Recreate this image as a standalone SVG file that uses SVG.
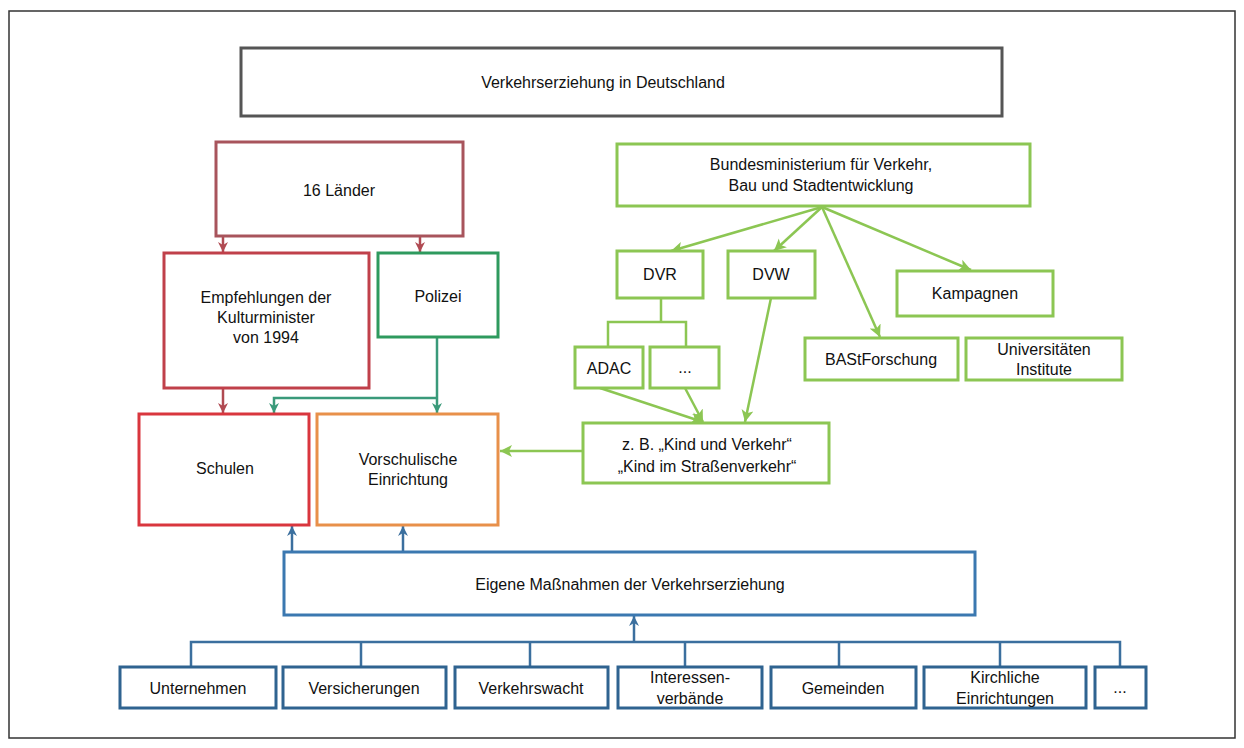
<svg xmlns="http://www.w3.org/2000/svg" width="1244" height="748" viewBox="0 0 1244 748">
<style>
text{font-family:"Liberation Sans",Arial,sans-serif;font-size:16px;fill:#111;text-anchor:middle;dominant-baseline:central}
.box{fill:#fff;stroke-width:3}
.g{stroke:#8cc653}
.b{stroke:#3b78b0}
.bb{stroke:#2f6390}
.c{fill:none;stroke-width:2.5}
</style>
<defs>
<marker id="aR" markerUnits="userSpaceOnUse" markerWidth="12" markerHeight="12" refX="10" refY="6" orient="auto"><path d="M0,1 L10,6 L0,11 L3,6 z" fill="#b04a52"/></marker>
<marker id="aT" markerUnits="userSpaceOnUse" markerWidth="12" markerHeight="12" refX="10" refY="6" orient="auto"><path d="M0,1 L10,6 L0,11 L3,6 z" fill="#3a9a7a"/></marker>
<marker id="aG" markerUnits="userSpaceOnUse" markerWidth="14" markerHeight="14" refX="12" refY="7" orient="auto"><path d="M0,1 L12,7 L0,13 L3,7 z" fill="#8cc653"/></marker>
<marker id="aB" markerUnits="userSpaceOnUse" markerWidth="12" markerHeight="12" refX="10" refY="6" orient="auto"><path d="M0,1 L10,6 L0,11 L3,6 z" fill="#3b6f9e"/></marker>
</defs>
<rect x="9" y="11" width="1226" height="727" fill="#fff" stroke="#333" stroke-width="1.5"/>

<g id="connectors">
<path class="c" stroke="#b04a52" d="M223,236 V252" marker-end="url(#aR)"/>
<path class="c" stroke="#b04a52" d="M420,236 V252" marker-end="url(#aR)"/>
<path class="c" stroke="#b04a52" d="M223,388 V413" marker-end="url(#aR)"/>
<path class="c" stroke="#3a9a7a" d="M437,337 V413" marker-end="url(#aT)"/>
<path class="c" stroke="#3a9a7a" d="M437,398 H274 V413" marker-end="url(#aT)"/>
<path class="c" stroke="#8cc653" d="M822,207 L671,251" marker-end="url(#aG)"/>
<path class="c" stroke="#8cc653" d="M822,207 L774,251" marker-end="url(#aG)"/>
<path class="c" stroke="#8cc653" d="M822,207 L880,337" marker-end="url(#aG)"/>
<path class="c" stroke="#8cc653" d="M822,207 L971,270" marker-end="url(#aG)"/>
<path class="c" stroke="#8cc653" d="M661,298 V322 M608,347 V322 H686 V347"/>
<path class="c" stroke="#8cc653" d="M600,388 L703,422" marker-end="url(#aG)"/>
<path class="c" stroke="#8cc653" d="M685,388 L703,422" marker-end="url(#aG)"/>
<path class="c" stroke="#8cc653" d="M771,298 L745,422" marker-end="url(#aG)"/>
<path class="c" stroke="#8cc653" d="M583,451 H500" marker-end="url(#aG)"/>
<path class="c" stroke="#3b6f9e" d="M292,552 V526" marker-end="url(#aB)"/>
<path class="c" stroke="#3b6f9e" d="M403,552 V526" marker-end="url(#aB)"/>
<path class="c" stroke="#3b6f9e" d="M191,667 V642 H1120 V667 M361,642 V667 M530,642 V667 M685,642 V667 M839,642 V667 M1000,642 V667"/>
<path class="c" stroke="#3b6f9e" d="M634,642 V616" marker-end="url(#aB)"/>
</g>

<g id="title"><rect class="box" x="241" y="48" width="761" height="68" stroke="#555" stroke-width="2"/><text x="603" y="82">Verkehrserziehung in Deutschland</text></g>
<g id="laender"><rect class="box" x="216" y="142" width="247" height="94" stroke="#a8545c"/><text x="339" y="190">16 Länder</text></g>
<g id="empfehlungen"><rect class="box" x="164" y="253" width="205" height="135" stroke="#c0404a"/><text x="266" y="297">Empfehlungen der</text><text x="266" y="317">Kulturminister</text><text x="266" y="337">von 1994</text></g>
<g id="polizei"><rect class="box" x="378" y="253" width="120" height="84" stroke="#2e9a5e"/><text x="438" y="296">Polizei</text></g>
<g id="schulen"><rect class="box" x="139" y="414" width="170" height="111" stroke="#d9363e"/><text x="225" y="468">Schulen</text></g>
<g id="vorschulisch"><rect class="box" x="317" y="414" width="181" height="111" stroke="#e8904a"/><text x="408" y="459">Vorschulische</text><text x="408" y="479">Einrichtung</text></g>

<g id="bmvbs"><rect class="box g" x="617" y="144" width="413" height="62"/><text x="821" y="164">Bundesministerium für Verkehr,</text><text x="821" y="185">Bau und Stadtentwicklung</text></g>
<g id="dvr"><rect class="box g" x="617" y="251" width="86" height="47"/><text x="660" y="274">DVR</text></g>
<g id="dvw"><rect class="box g" x="728" y="251" width="87" height="47"/><text x="771" y="274">DVW</text></g>
<g id="kampagnen"><rect class="box g" x="897" y="271" width="156" height="45"/><text x="975" y="293">Kampagnen</text></g>
<g id="adac"><rect class="box g" x="575" y="347" width="68" height="41"/><text x="609" y="368">ADAC</text></g>
<g id="dvr-more"><rect class="box g" x="650" y="347" width="69" height="41"/><text x="685" y="367">...</text></g>
<g id="bast"><rect class="box g" x="805" y="338" width="153" height="42"/><text x="881" y="359">BAStForschung</text></g>
<g id="uni"><rect class="box g" x="966" y="338" width="156" height="42"/><text x="1044" y="349">Universitäten</text><text x="1044" y="369">Institute</text></g>
<g id="kind"><rect class="box g" x="583" y="423" width="246" height="60"/><text x="707" y="444">z. B. „Kind und Verkehr“</text><text x="707" y="466">„Kind im Straßenverkehr“</text></g>

<g id="eigene"><rect class="box b" x="284" y="552" width="691" height="63"/><text x="630" y="584">Eigene Maßnahmen der Verkehrserziehung</text></g>
<g id="unternehmen"><rect class="box bb" x="120" y="667" width="156" height="41"/><text x="198" y="688">Unternehmen</text></g>
<g id="versicherungen"><rect class="box bb" x="283" y="667" width="163" height="41"/><text x="364" y="688">Versicherungen</text></g>
<g id="verkehrswacht"><rect class="box bb" x="455" y="667" width="153" height="41"/><text x="531" y="688">Verkehrswacht</text></g>
<g id="interessen"><rect class="box bb" x="618" y="667" width="144" height="41"/><text x="690" y="677">Interessen-</text><text x="690" y="698">verbände</text></g>
<g id="gemeinden"><rect class="box bb" x="771" y="667" width="145" height="41"/><text x="843" y="688">Gemeinden</text></g>
<g id="kirchliche"><rect class="box bb" x="924" y="667" width="162" height="41"/><text x="1005" y="677">Kirchliche</text><text x="1005" y="698">Einrichtungen</text></g>
<g id="more"><rect class="box bb" x="1095" y="667" width="51" height="41"/><text x="1120" y="687">...</text></g>
</svg>
